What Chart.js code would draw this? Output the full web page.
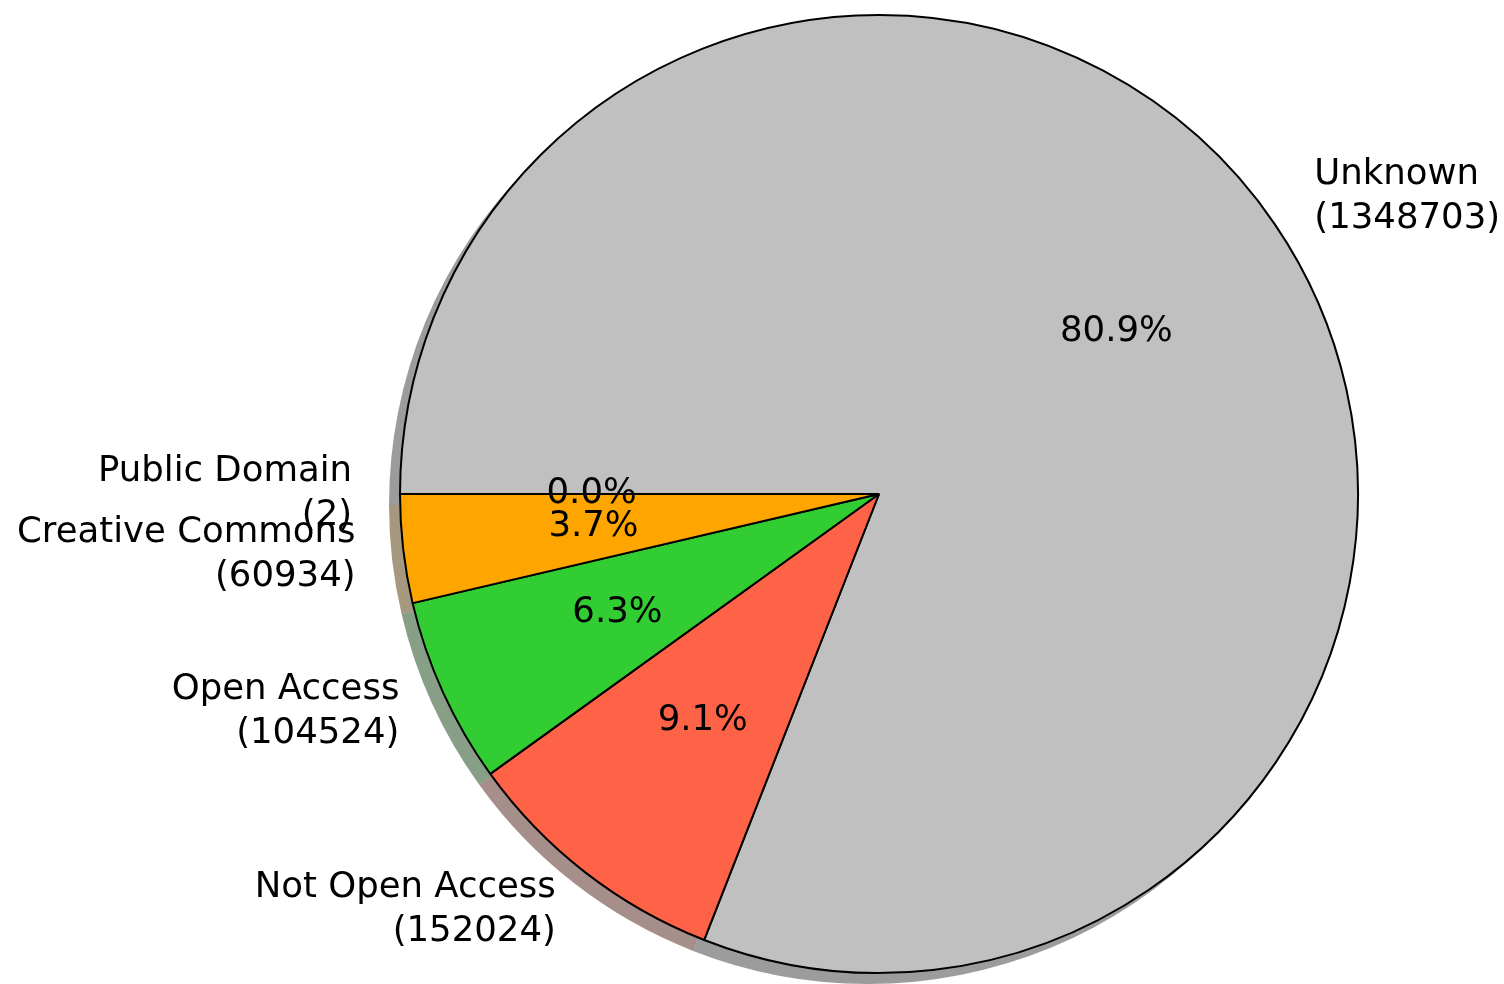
<!DOCTYPE html>
<html>
<head>
<meta charset="utf-8">
<script src="https://cdn.jsdelivr.net/npm/chart.js@4"></script>
<style>
  html, body { margin: 0; padding: 0; background: #fff; }
  #wrap { width: 1504px; height: 984px; position: relative; }
</style>
</head>
<body>
<div id="wrap"><canvas id="chart"></canvas></div>
<script>
// slices in matplotlib order (counter-clockwise from the left)
const categories = ["Public Domain", "Creative Commons", "Open Access", "Not Open Access", "Unknown"];
const counts = [2, 60934, 104524, 152024, 1348703];
const colors = ["#FFD700", "#FFA500", "#32CD32", "#FF6347", "#C0C0C0"];

// Chart.js goes clockwise, so reverse the order
const labels = categories.slice().reverse();
const values = counts.slice().reverse();
const fills = colors.slice().reverse();
const total = counts.reduce((a, b) => a + b, 0);

const FONT = "35.5px 'DejaVu Sans'";

function hexRgb(h) {
  const n = parseInt(h.slice(1), 16);
  return [(n >> 16) & 255, (n >> 8) & 255, n & 255];
}

const shadowPlugin = {
  id: "shadow",
  beforeDatasetsDraw(chart) {
    const ctx = chart.ctx;
    const arcs = chart.getDatasetMeta(0).data;
    ctx.save();
    arcs.forEach((arc, i) => {
      const p = arc.getProps(["x", "y", "startAngle", "endAngle", "outerRadius"], true);
      const c = hexRgb(fills[i]).map(v => Math.round(v * 0.3));
      const x = p.x - 11, y = p.y + 11;
      ctx.beginPath();
      ctx.moveTo(x, y);
      ctx.arc(x, y, p.outerRadius, p.startAngle, p.endAngle);
      ctx.closePath();
      ctx.fillStyle = "rgba(" + c.join(",") + ",0.5)";
      ctx.fill();
    });
    ctx.restore();
  }
};

const labelPlugin = {
  id: "sliceLabels",
  afterDatasetsDraw(chart) {
    const ctx = chart.ctx;
    const arcs = chart.getDatasetMeta(0).data;
    ctx.save();
    ctx.font = FONT;
    ctx.fillStyle = "#000";
    ctx.textBaseline = "middle";
    arcs.forEach((arc, i) => {
      const p = arc.getProps(["x", "y", "startAngle", "endAngle", "outerRadius"], true);
      const mid = (p.startAngle + p.endAngle) / 2;
      const cos = Math.cos(mid), sin = Math.sin(mid);
      // percentage inside
      ctx.textAlign = "center";
      const pct = (values[i] / total * 100).toFixed(1) + "%";
      ctx.fillText(pct, p.x + cos * p.outerRadius * 0.6, p.y + sin * p.outerRadius * 0.6);
      // outside label, two lines
      const lx = p.x + cos * p.outerRadius * 1.1;
      const ly = p.y + sin * p.outerRadius * 1.1;
      ctx.textAlign = cos > 0 ? "left" : "right";
      ctx.fillText(labels[i], lx, ly - 22);
      ctx.fillText("(" + values[i] + ")", lx, ly + 22);
    });
    ctx.restore();
  }
};

new Chart(document.getElementById("chart"), {
  type: "pie",
  data: {
    labels: labels,
    datasets: [{
      data: values,
      backgroundColor: fills,
      borderColor: "#000",
      borderWidth: 2,
      hoverOffset: 0,
      offset: 0
    }]
  },
  options: {
    responsive: true,
    maintainAspectRatio: false,
    animation: false,
    rotation: 270,
    layout: { padding: { left: 399, right: 145, top: 14, bottom: 10 } },
    plugins: {
      legend: { display: false },
      tooltip: { enabled: false }
    }
  },
  plugins: [shadowPlugin, labelPlugin]
});
</script>
</body>
</html>
